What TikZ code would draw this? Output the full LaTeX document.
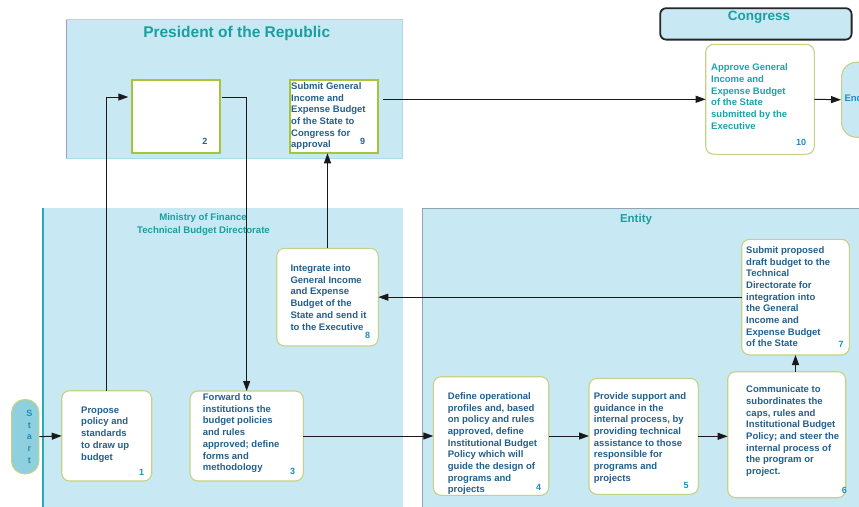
\documentclass[tikz,border=0pt]{standalone}
\usepackage{fontspec}
\setmainfont{Liberation Sans}
\usetikzlibrary{arrows.meta,calc}

\definecolor{lanefill}{HTML}{C8E9F3}
\definecolor{laneline}{HTML}{A8DCE6}
\definecolor{lanegrey}{HTML}{8FA6AE}
\definecolor{laneteal}{HTML}{2AA9B8}
\definecolor{titleteal}{HTML}{1B9E9F}
\definecolor{boxtext}{HTML}{22608E}
\definecolor{approvetext}{HTML}{1BA3AC}
\definecolor{numblue}{HTML}{1F8CBF}
\definecolor{roundedge}{HTML}{C5D285}
\definecolor{squareedge}{HTML}{A5C53A}
\definecolor{startfill}{HTML}{8ED0DE}

\tikzset{
  lane/.style={fill=lanefill, draw=laneline, line width=0.6pt},
  stepbox/.style={draw=roundedge, fill=white, rounded corners=8pt, line width=1.1pt,
    inner sep=0pt, outer sep=0pt, anchor=north west},
  sqbox/.style={draw=squareedge, fill=white, line width=2.2pt,
    inner sep=0pt, outer sep=0pt, anchor=north west},
  txt/.style={font=\fontsize{9.5}{11.7}\selectfont\bfseries, text=boxtext,
    align=left, anchor=north west, inner sep=0pt},
  num/.style={font=\fontsize{9}{10}\selectfont\bfseries, text=numblue, inner sep=0pt},
  flow/.style={draw=black!90, line width=1pt, -{Triangle[length=10pt,width=7pt]}},
  lanetitle/.style={text=titleteal, inner sep=0pt, anchor=base}
}

\begin{document}
\begin{tikzpicture}[x=1pt, y=-1pt]
\clip (0,0) rectangle (859,506);
\fill[white] (0,0) rectangle (859,506);

% swimlanes
\draw[lane] (66.3,19) rectangle (402.7,158.3);
\draw[lanegrey, line width=0.8pt] (66.3,19.5) -- (66.3,158);
\fill[lanefill] (43.3,208) rectangle (403,507);
\draw[laneteal, line width=2pt] (43.3,208) -- (43.3,507);
\fill[lanefill] (422.3,208) rectangle (860,507);
\draw[lanegrey, line width=0.8pt] (422.3,507) -- (422.3,208.3) -- (860,208.3);

% lane titles
\node[lanetitle, font=\fontsize{15.5}{18}\selectfont\bfseries] (tpres) at (236.7,37.8) {President of the Republic};
\node[lanetitle, font=\fontsize{9.6}{12.3}\selectfont\bfseries] (tmin1) at (203,220.8) {Ministry of Finance};
\node[lanetitle, font=\fontsize{9.6}{12.3}\selectfont\bfseries] (tmin2) at (203.5,233.2) {Technical Budget Directorate};
\node[lanetitle, font=\fontsize{11.5}{13}\selectfont\bfseries] (tent) at (636,222.8) {Entity};

% Congress header
\node[draw=black!85, fill=lanefill, line width=1.8pt, rounded corners=6pt,
  inner sep=0pt, anchor=north west, minimum width=191.4pt, minimum height=31.4pt] (cong) at (659.3,7.3) {};
\node[lanetitle, font=\fontsize{13.5}{15}\selectfont\bfseries] (tcong) at (759,20) {Congress};

% start and end terminals
\node[draw=roundedge, fill=startfill, line width=1.1pt, rounded corners=13pt,
  inner sep=0pt, anchor=north west, minimum width=27.3pt, minimum height=74.3pt] (start) at (11,399) {};
\node[font=\fontsize{9}{11.7}\selectfont\bfseries, text=numblue, align=center,
  inner sep=0pt, anchor=north] (tstart) at (29.3,410) {S\\t\\a\\r\\t};

\node[draw=roundedge, fill=lanefill, line width=1.1pt, rounded corners=15pt,
  inner sep=0pt, anchor=north west, minimum width=60pt, minimum height=75pt] (fin) at (841,61.7) {};
\node[font=\fontsize{9.5}{11}\selectfont\bfseries, text=numblue, anchor=west, inner sep=0pt] (tfin) at (844.3,98) {End};

% process boxes
\node[sqbox, minimum width=88pt, minimum height=73.6pt] (b2) at (132.3,79.7) {};
\node[sqbox, minimum width=88.6pt, minimum height=73.6pt] (b9) at (289.7,79.7) {};
\node[stepbox, minimum width=108.6pt, minimum height=110pt] (b10) at (705.7,44.3) {};
\node[stepbox, minimum width=101.6pt, minimum height=97.7pt] (b8) at (276.7,248.3) {};
\node[stepbox, minimum width=90pt, minimum height=90.3pt] (b1) at (61.7,390.7) {};
\node[stepbox, minimum width=113.3pt, minimum height=90pt] (b3) at (190,391) {};
\node[stepbox, minimum width=115.4pt, minimum height=118.6pt] (b4) at (433.3,376.7) {};
\node[stepbox, minimum width=109.3pt, minimum height=116pt] (b5) at (589,378.3) {};
\node[stepbox, minimum width=118pt, minimum height=126pt] (b6) at (727.7,371.7) {};
\node[stepbox, minimum width=107.6pt, minimum height=115.7pt] (b7) at (741.7,239.3) {};

% box texts
\node[txt] (t1) at (81,406.5) {Propose\\policy and\\standards\\to draw up\\budget};
\node[txt] (t3) at (202.7,393.5) {Forward to\\institutions the\\budget policies\\and rules\\approved; define\\forms and\\methodology};
\node[txt] (t8) at (290.3,264.5) {Integrate into\\General Income\\and Expense\\Budget of the\\State and send it\\to the Executive};
\node[txt] (t9) at (291,82.3) {Submit General\\Income and\\Expense Budget\\of the State to\\Congress for\\approval};
\node[txt, text=approvetext] (t10) at (711,63.7) {Approve General\\Income and\\Expense Budget\\of the State\\submitted by the\\Executive};
\node[txt] (t4) at (447.7,392.3) {Define operational\\profiles and, based\\on policy and rules\\approved, define\\Institutional Budget\\Policy which will\\guide the design of\\programs and\\projects};
\node[txt] (t5) at (593.7,392.3) {Provide support and\\guidance in the\\internal process, by\\providing technical\\assistance to those\\responsible for\\programs and\\projects};
\node[txt] (t6) at (746,385.7) {Communicate to\\subordinates the\\caps, rules and\\Institutional Budget\\Policy; and steer the\\internal process of\\the program or\\project.};
\node[txt] (t7) at (746,246.3) {Submit proposed\\draft budget to the\\Technical\\Directorate for\\integration into\\the General\\Income and\\Expense Budget\\of the State};

% step numbers
\node[num] (n1) at (141.7,472) {1};
\node[num, text=boxtext] (n2) at (205,141.7) {2};
\node[num] (n3) at (292.7,471.7) {3};
\node[num] (n4) at (538.7,487) {4};
\node[num] (n5) at (686,485) {5};
\node[num] (n6) at (844.3,490) {6};
\node[num] (n7) at (841,344) {7};
\node[num] (n8) at (367.7,335) {8};
\node[num, text=boxtext] (n9) at (362.7,141.7) {9};
\node[num] (n10) at (801,142.7) {10};

% flow connectors
\draw[flow] (start.east) -- (b1.west);
\draw[flow, shorten >=4pt] (b1.north) |- ($(b2.north west)+(0,17.3)$);
\draw[flow] ($(b2.north east)+(1.5,17.3)$) -| (b3.north);
\draw[flow] (b3.east) -- (b4.west);
\draw[flow] (b4.east) -- (b4.east -| b5.west);
\draw[flow] (b5.east) -- (b5.east -| b6.west);
\draw[flow] (b7.south |- b6.north) -- (b7.south);
\draw[flow] (b7.west) -- (b8.east);
\draw[flow] (b8.north) -- (b8.north |- b9.south);
\draw[flow, shorten <=5pt] (b9.east |- b10.west) -- (b10.west);
\draw[flow] (b10.east) -- (fin.west);
\end{tikzpicture}
\end{document}
